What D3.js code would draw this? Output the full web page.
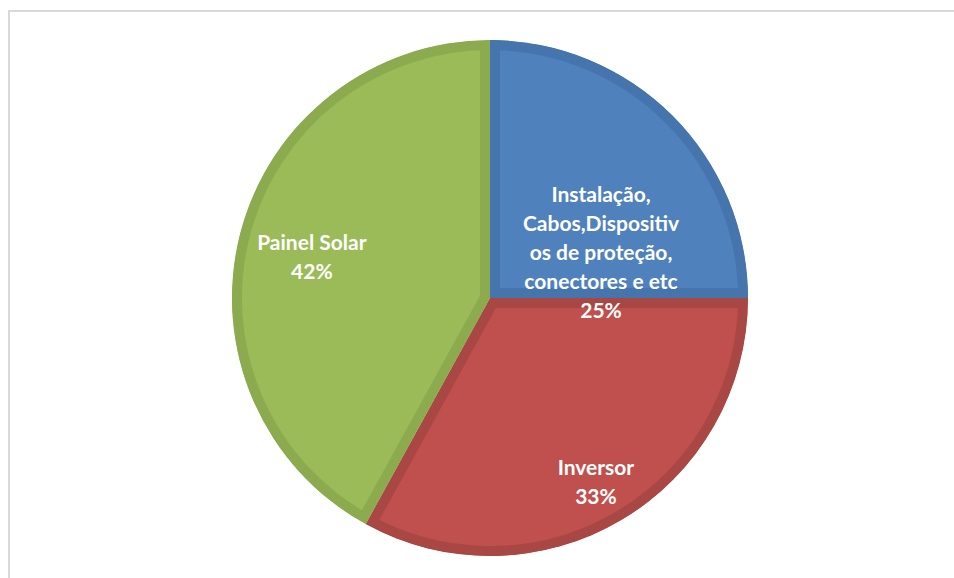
<!DOCTYPE html>
<meta charset="utf-8">
<style>
body { margin: 0; background: #fff; }
.label text {
  font: bold 21px Lato, "Open Sans", sans-serif;
  fill: #fff;
  text-anchor: middle;
}
</style>
<body>
<script src="https://cdn.jsdelivr.net/npm/d3@7"></script>
<script>

// data
var categories = ["Instalação, Cabos,Dispositivos de proteção, conectores e etc", "Inversor", "Painel Solar"];
var labelLines = [
  ["Instalação,", "Cabos,Dispositiv", "os de proteção,", "conectores e etc"],
  ["Inversor"],
  ["Painel Solar"]
];
var values = [25, 33, 42];

var width = 954,
    height = 578,
    radius = 258,
    cx = 490,
    cy = 298;

var fills = ["#4f81bd", "#c0504d", "#9bbb59"];
var borders = ["#4674ad", "#a94744", "#8cab4f"];

// label placement: radius of centroid and nudge (Excel moves labels to fit)
var labelRadius = [157, 212, 185];
var labelNudge = [[0, 66], [-2, 2], [1, 5]];

var svg = d3.select("body").append("svg")
    .attr("width", width)
    .attr("height", height);

// chart frame
svg.append("rect")
    .attr("x", 9).attr("y", 11)
    .attr("width", width + 20).attr("height", height + 20)
    .attr("fill", "none")
    .attr("stroke", "#d9d9d9")
    .attr("stroke-width", 2);

var pie = d3.pie()
    .value(function(d) { return d; })
    .sort(null);

var arc = d3.arc()
    .outerRadius(radius)
    .innerRadius(0);

var arcs = pie(values);

var g = svg.append("g")
    .attr("transform", "translate(" + cx + "," + cy + ")");

var defs = svg.append("defs");
defs.selectAll("clipPath").data(arcs).enter().append("clipPath")
    .attr("id", function(d, i) { return "clip" + i; })
  .append("path")
    .attr("d", arc);

g.selectAll(".slice").data(arcs).enter().append("path")
    .attr("class", "slice")
    .attr("d", arc)
    .attr("clip-path", function(d, i) { return "url(#clip" + i + ")"; })
    .attr("fill", function(d, i) { return fills[i]; })
    .attr("stroke", function(d, i) { return borders[i]; })
    .attr("stroke-width", 20)
    .attr("stroke-linejoin", "miter");

var lineH = 29;

var labels = g.selectAll(".label").data(arcs).enter().append("g")
    .attr("class", "label")
    .attr("transform", function(d, i) {
      var c = d3.arc().innerRadius(labelRadius[i]).outerRadius(labelRadius[i]).centroid(d);
      return "translate(" + (c[0] + labelNudge[i][0]) + "," + (c[1] + labelNudge[i][1]) + ")";
    });

labels.each(function(d, i) {
  var lines = labelLines[i].concat([d.data + "%"]);
  var top = -(lines.length - 1) * lineH / 2;
  d3.select(this).selectAll("text").data(lines).enter().append("text")
      .attr("y", function(t, j) { return top + j * lineH; })
      .attr("dy", "0.35em")
      .text(function(t) { return t; });
});

</script>
</body>
</html>
